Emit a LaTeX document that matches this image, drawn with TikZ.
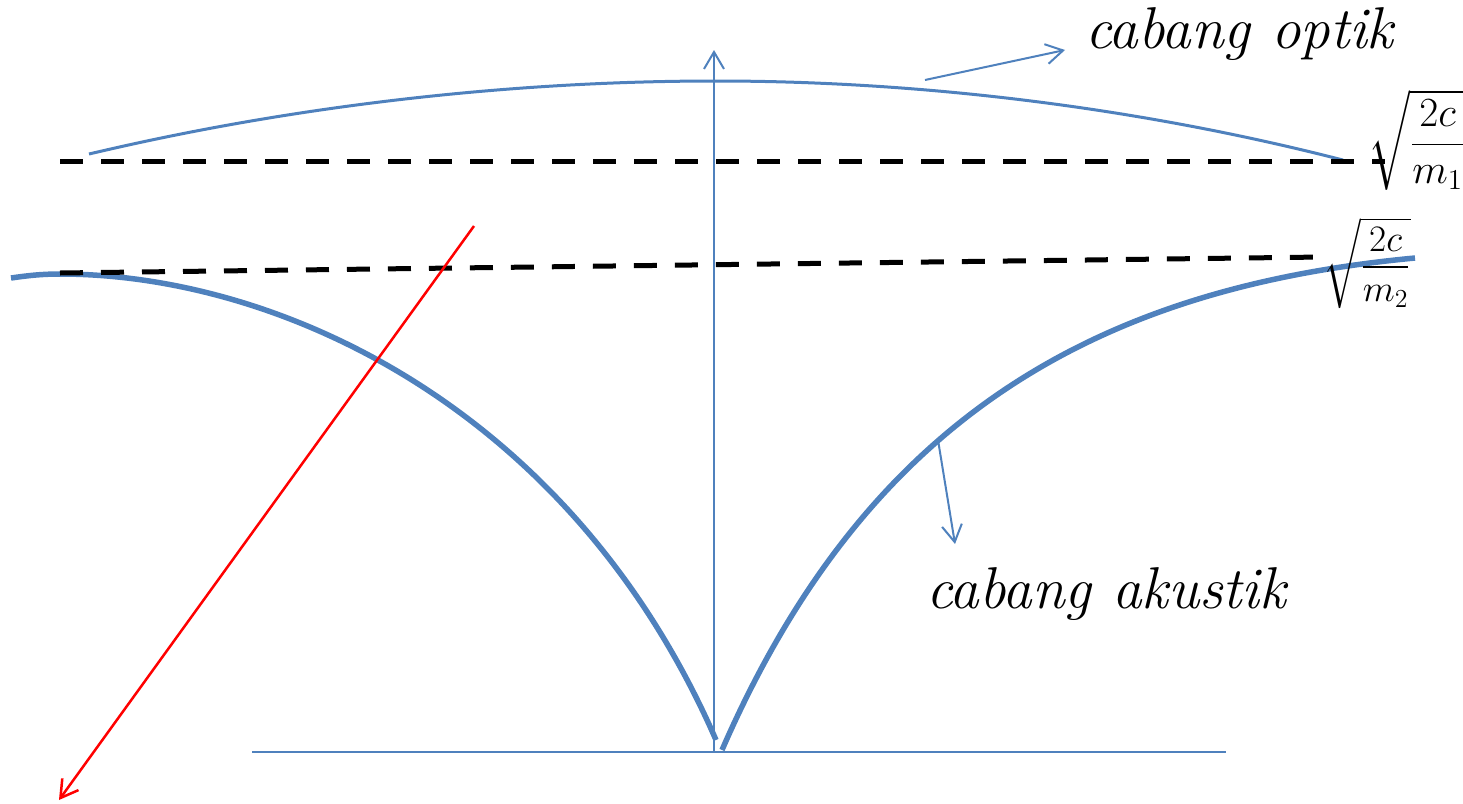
\documentclass[tikz,border=0pt]{standalone}
\usepackage{fontspec}
\usepackage{amsmath}
\usetikzlibrary{arrows.meta}
\definecolor{biru}{RGB}{79,129,189}
\tikzset{
  sumbu/.style={biru, line width=2pt},
  optik/.style={biru, line width=3pt},
  akustik/.style={biru, line width=5.5pt},
  putus/.style={black, line width=5pt, dash pattern=on 23pt off 18pt},
  merah/.style={red, line width=2.5pt},
  label/.style={inner sep=0pt, font=\fontsize{59}{66}\selectfont\itshape},
  akar/.style={inner sep=0pt, font=\fontsize{20}{24}\selectfont}
}
\begin{document}
\begin{tikzpicture}[x=1pt,y=-1pt, line join=round, >={Straight Barb[length=17pt,width=20pt]}]
\useasboundingbox (0,0) rectangle (1463,803);
% sumbu
\coordinate (O) at (714,752);
\coordinate (Ytop) at (714,50);
\coordinate (Xkiri) at (252,752);
\coordinate (Xkanan) at (1226,752);
\draw[sumbu] (Xkiri) -- (Xkanan);
\draw[sumbu,->] (O) -- (Ytop);
% cabang akustik
\coordinate (Kbawah) at (716,740);
\coordinate (Kpuncak) at (60,274);
\coordinate (Kujung) at (11,278);
\draw[akustik] (Kbawah) .. controls (572,409) and (280,274) .. (Kpuncak)
  .. controls (40,274) and (25,276) .. (Kujung);
\coordinate (Nbawah) at (722,750);
\coordinate (Nujung) at (1415,258);
\draw[akustik] (Nbawah) .. controls (866,419) and (1095,288) .. (Nujung);
% cabang optik
\coordinate (Okiri) at (89,154);
\coordinate (Opuncak) at (716,81);
\coordinate (Okanan) at (1343,160);
\draw[optik] (Okiri) parabola bend (Opuncak) (Okanan);
% garis putus-putus
\coordinate (A1) at (60,161);
\coordinate (B1) at (1385,161);
\coordinate (A2) at (60,273);
\coordinate (B2) at (1323,257);
\draw[putus] (A1) -- (B1);
\draw[putus] (A2) -- (B2);
% panah merah
\coordinate (Rawal) at (474,226);
\coordinate (Rujung) at (59,800);
\draw[merah,->] (Rawal) -- (Rujung);
% label
\node[label, anchor=base west] (Lopt) at (1085,48) {cabang optik};
\node[label, anchor=base west] (Lak) at (926,608) {cabang akustik};
\coordinate (Oawal) at (925,80);
\coordinate (Oujung) at (1065,50);
\draw[sumbu,->] (Oawal) -- (Oujung);
\coordinate (Aawal) at (938,440);
\coordinate (Aujung) at (955,544);
\draw[sumbu,->] (Aawal) -- (Aujung);
\node[akar, anchor=west, scale=2] (S1) at (1368,140) {$\displaystyle\sqrt{\frac{2c}{m_1}}$};
\node[akar, anchor=west, scale=1.8] (S2) at (1323,263) {$\displaystyle\sqrt{\frac{2c}{m_2}}$};
\end{tikzpicture}
\end{document}
